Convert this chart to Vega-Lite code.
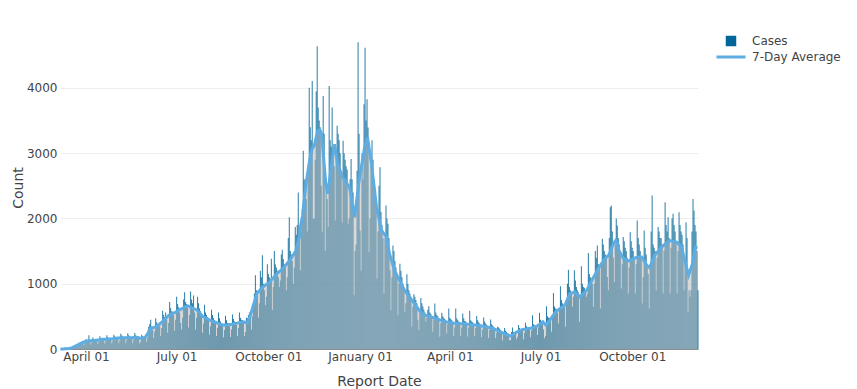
{
"$schema":"https://vega.github.io/schema/vega-lite/v6.json",
"width":638,"height":323,
"autosize":{"type":"none"},
"padding":{"left":60,"top":26,"right":159,"bottom":40},
"background":"#ffffff",
"config":{"font":"DejaVu Sans","view":{"stroke":null},
 "axis":{"labelFont":"DejaVu Sans","titleFont":"DejaVu Sans","labelFontSize":12,"titleFontSize":14,"labelColor":"#444444","titleColor":"#444444","titleFontWeight":"normal","ticks":false},
 "legend":{"labelFont":"DejaVu Sans"}},
"data":{"values":[
{"d":"2020-03-06","c":0,"a":0},{"d":"2020-03-07","c":0,"a":0},
{"d":"2020-03-08","c":0,"a":1},{"d":"2020-03-09","c":1,"a":1},{"d":"2020-03-10","c":2,"a":2},{"d":"2020-03-11","c":4,"a":3},{"d":"2020-03-12","c":5,"a":4},{"d":"2020-03-13","c":6,"a":5},{"d":"2020-03-14","c":8,"a":6},
{"d":"2020-03-15","c":5,"a":8},{"d":"2020-03-16","c":10,"a":12},{"d":"2020-03-17","c":20,"a":16},{"d":"2020-03-18","c":25,"a":20},{"d":"2020-03-19","c":30,"a":28},{"d":"2020-03-20","c":40,"a":36},{"d":"2020-03-21","c":45,"a":44},
{"d":"2020-03-22","c":30,"a":52},{"d":"2020-03-23","c":50,"a":60},{"d":"2020-03-24","c":95,"a":68},{"d":"2020-03-25","c":90,"a":76},{"d":"2020-03-26","c":95,"a":83},{"d":"2020-03-27","c":100,"a":90},{"d":"2020-03-28","c":90,"a":97},
{"d":"2020-03-29","c":60,"a":104},{"d":"2020-03-30","c":95,"a":110},{"d":"2020-03-31","c":150,"a":116},{"d":"2020-04-01","c":140,"a":122},{"d":"2020-04-02","c":130,"a":123},{"d":"2020-04-03","c":210,"a":124},{"d":"2020-04-04","c":120,"a":125},
{"d":"2020-04-05","c":70,"a":126},{"d":"2020-04-06","c":100,"a":127},{"d":"2020-04-07","c":175,"a":128},{"d":"2020-04-08","c":150,"a":130},{"d":"2020-04-09","c":140,"a":132},{"d":"2020-04-10","c":135,"a":134},{"d":"2020-04-11","c":125,"a":136},
{"d":"2020-04-12","c":75,"a":138},{"d":"2020-04-13","c":110,"a":140},{"d":"2020-04-14","c":195,"a":142},{"d":"2020-04-15","c":170,"a":144},{"d":"2020-04-16","c":160,"a":146},{"d":"2020-04-17","c":155,"a":148},{"d":"2020-04-18","c":140,"a":150},
{"d":"2020-04-19","c":80,"a":150},{"d":"2020-04-20","c":120,"a":151},{"d":"2020-04-21","c":210,"a":151},{"d":"2020-04-22","c":180,"a":152},{"d":"2020-04-23","c":165,"a":152},{"d":"2020-04-24","c":160,"a":153},{"d":"2020-04-25","c":145,"a":153},
{"d":"2020-04-26","c":85,"a":155},{"d":"2020-04-27","c":125,"a":157},{"d":"2020-04-28","c":220,"a":159},{"d":"2020-04-29","c":195,"a":161},{"d":"2020-04-30","c":180,"a":163},{"d":"2020-05-01","c":170,"a":165},{"d":"2020-05-02","c":160,"a":168},
{"d":"2020-05-03","c":90,"a":170},{"d":"2020-05-04","c":135,"a":170},{"d":"2020-05-05","c":235,"a":171},{"d":"2020-05-06","c":205,"a":171},{"d":"2020-05-07","c":190,"a":171},{"d":"2020-05-08","c":180,"a":172},{"d":"2020-05-09","c":165,"a":172},
{"d":"2020-05-10","c":90,"a":172},{"d":"2020-05-11","c":140,"a":173},{"d":"2020-05-12","c":240,"a":173},{"d":"2020-05-13","c":210,"a":173},{"d":"2020-05-14","c":190,"a":174},{"d":"2020-05-15","c":180,"a":174},{"d":"2020-05-16","c":165,"a":174},
{"d":"2020-05-17","c":90,"a":174},{"d":"2020-05-18","c":140,"a":175},{"d":"2020-05-19","c":245,"a":175},{"d":"2020-05-20","c":210,"a":175},{"d":"2020-05-21","c":195,"a":175},{"d":"2020-05-22","c":185,"a":175},{"d":"2020-05-23","c":165,"a":175},
{"d":"2020-05-24","c":85,"a":170},{"d":"2020-05-25","c":110,"a":165},{"d":"2020-05-26","c":220,"a":162},{"d":"2020-05-27","c":200,"a":165},{"d":"2020-05-28","c":185,"a":170},{"d":"2020-05-29","c":185,"a":175},{"d":"2020-05-30","c":170,"a":180},
{"d":"2020-05-31","c":110,"a":200},{"d":"2020-06-01","c":180,"a":225},{"d":"2020-06-02","c":340,"a":250},{"d":"2020-06-03","c":380,"a":290},{"d":"2020-06-04","c":450,"a":310},{"d":"2020-06-05","c":340,"a":320},{"d":"2020-06-06","c":300,"a":325},
{"d":"2020-06-07","c":170,"a":328},{"d":"2020-06-08","c":270,"a":332},{"d":"2020-06-09","c":470,"a":336},{"d":"2020-06-10","c":410,"a":341},{"d":"2020-06-11","c":380,"a":352},{"d":"2020-06-12","c":370,"a":365},{"d":"2020-06-13","c":350,"a":378},
{"d":"2020-06-14","c":200,"a":390},{"d":"2020-06-15","c":320,"a":403},{"d":"2020-06-16","c":585,"a":417},{"d":"2020-06-17","c":520,"a":432},{"d":"2020-06-18","c":490,"a":447},{"d":"2020-06-19","c":560,"a":462},{"d":"2020-06-20","c":450,"a":477},
{"d":"2020-06-21","c":250,"a":492},{"d":"2020-06-22","c":400,"a":505},{"d":"2020-06-23","c":720,"a":519},{"d":"2020-06-24","c":630,"a":526},{"d":"2020-06-25","c":580,"a":533},{"d":"2020-06-26","c":570,"a":541},{"d":"2020-06-27","c":520,"a":548},
{"d":"2020-06-28","c":280,"a":555},{"d":"2020-06-29","c":450,"a":562},{"d":"2020-06-30","c":800,"a":570},{"d":"2020-07-01","c":690,"a":579},{"d":"2020-07-02","c":640,"a":587},{"d":"2020-07-03","c":560,"a":596},{"d":"2020-07-04","c":400,"a":604},
{"d":"2020-07-05","c":300,"a":612},{"d":"2020-07-06","c":480,"a":621},{"d":"2020-07-07","c":760,"a":629},{"d":"2020-07-08","c":870,"a":637},{"d":"2020-07-09","c":720,"a":645},{"d":"2020-07-10","c":690,"a":652},{"d":"2020-07-11","c":630,"a":660},
{"d":"2020-07-12","c":330,"a":660},{"d":"2020-07-13","c":520,"a":653},{"d":"2020-07-14","c":880,"a":647},{"d":"2020-07-15","c":760,"a":640},{"d":"2020-07-16","c":700,"a":632},{"d":"2020-07-17","c":820,"a":625},{"d":"2020-07-18","c":560,"a":617},
{"d":"2020-07-19","c":300,"a":610},{"d":"2020-07-20","c":480,"a":602},{"d":"2020-07-21","c":800,"a":595},{"d":"2020-07-22","c":700,"a":578},{"d":"2020-07-23","c":620,"a":561},{"d":"2020-07-24","c":580,"a":544},{"d":"2020-07-25","c":520,"a":527},
{"d":"2020-07-26","c":250,"a":510},{"d":"2020-07-27","c":390,"a":494},{"d":"2020-07-28","c":680,"a":487},{"d":"2020-07-29","c":560,"a":480},{"d":"2020-07-30","c":520,"a":472},{"d":"2020-07-31","c":490,"a":465},{"d":"2020-08-01","c":440,"a":458},
{"d":"2020-08-02","c":220,"a":450},{"d":"2020-08-03","c":350,"a":443},{"d":"2020-08-04","c":600,"a":437},{"d":"2020-08-05","c":520,"a":431},{"d":"2020-08-06","c":470,"a":425},{"d":"2020-08-07","c":440,"a":418},{"d":"2020-08-08","c":400,"a":412},
{"d":"2020-08-09","c":200,"a":406},{"d":"2020-08-10","c":320,"a":400},{"d":"2020-08-11","c":560,"a":394},{"d":"2020-08-12","c":470,"a":389},{"d":"2020-08-13","c":420,"a":383},{"d":"2020-08-14","c":400,"a":377},{"d":"2020-08-15","c":360,"a":372},
{"d":"2020-08-16","c":180,"a":366},{"d":"2020-08-17","c":290,"a":366},{"d":"2020-08-18","c":510,"a":366},{"d":"2020-08-19","c":440,"a":366},{"d":"2020-08-20","c":400,"a":366},{"d":"2020-08-21","c":390,"a":369},{"d":"2020-08-22","c":350,"a":371},
{"d":"2020-08-23","c":185,"a":374},{"d":"2020-08-24","c":300,"a":377},{"d":"2020-08-25","c":530,"a":379},{"d":"2020-08-26","c":460,"a":382},{"d":"2020-08-27","c":420,"a":386},{"d":"2020-08-28","c":410,"a":389},{"d":"2020-08-29","c":370,"a":393},
{"d":"2020-08-30","c":200,"a":396},{"d":"2020-08-31","c":320,"a":400},{"d":"2020-09-01","c":560,"a":403},{"d":"2020-09-02","c":480,"a":407},{"d":"2020-09-03","c":450,"a":410},{"d":"2020-09-04","c":440,"a":414},{"d":"2020-09-05","c":400,"a":417},
{"d":"2020-09-06","c":200,"a":413},{"d":"2020-09-07","c":260,"a":409},{"d":"2020-09-08","c":480,"a":404},{"d":"2020-09-09","c":470,"a":400},{"d":"2020-09-10","c":520,"a":430},{"d":"2020-09-11","c":560,"a":462},{"d":"2020-09-12","c":500,"a":494},
{"d":"2020-09-13","c":300,"a":545},{"d":"2020-09-14","c":500,"a":596},{"d":"2020-09-15","c":700,"a":647},{"d":"2020-09-16","c":850,"a":698},{"d":"2020-09-17","c":1130,"a":748},{"d":"2020-09-18","c":900,"a":799},{"d":"2020-09-19","c":820,"a":850},
{"d":"2020-09-20","c":480,"a":867},{"d":"2020-09-21","c":700,"a":884},{"d":"2020-09-22","c":1200,"a":901},{"d":"2020-09-23","c":1100,"a":918},{"d":"2020-09-24","c":1435,"a":934},{"d":"2020-09-25","c":1000,"a":951},{"d":"2020-09-26","c":900,"a":962},
{"d":"2020-09-27","c":672,"a":973},{"d":"2020-09-28","c":800,"a":984},{"d":"2020-09-29","c":1300,"a":995},{"d":"2020-09-30","c":1150,"a":1006},{"d":"2020-10-01","c":1100,"a":1017},{"d":"2020-10-02","c":1050,"a":1028},{"d":"2020-10-03","c":1384,"a":1046},
{"d":"2020-10-04","c":600,"a":1064},{"d":"2020-10-05","c":950,"a":1082},{"d":"2020-10-06","c":1500,"a":1100},{"d":"2020-10-07","c":1300,"a":1118},{"d":"2020-10-08","c":1250,"a":1136},{"d":"2020-10-09","c":1200,"a":1155},{"d":"2020-10-10","c":1100,"a":1168},
{"d":"2020-10-11","c":950,"a":1181},{"d":"2020-10-12","c":1050,"a":1194},{"d":"2020-10-13","c":1450,"a":1206},{"d":"2020-10-14","c":1522,"a":1219},{"d":"2020-10-15","c":1380,"a":1232},{"d":"2020-10-16","c":1300,"a":1250},{"d":"2020-10-17","c":1250,"a":1268},
{"d":"2020-10-18","c":900,"a":1286},{"d":"2020-10-19","c":1100,"a":1304},{"d":"2020-10-20","c":1700,"a":1322},{"d":"2020-10-21","c":2020,"a":1340},{"d":"2020-10-22","c":1500,"a":1359},{"d":"2020-10-23","c":1450,"a":1382},{"d":"2020-10-24","c":1350,"a":1406},
{"d":"2020-10-25","c":1000,"a":1430},{"d":"2020-10-26","c":1250,"a":1453},{"d":"2020-10-27","c":1868,"a":1477},{"d":"2020-10-28","c":1750,"a":1500},{"d":"2020-10-29","c":1900,"a":1560},{"d":"2020-10-30","c":2400,"a":1620},{"d":"2020-10-31","c":1700,"a":1680},
{"d":"2020-11-01","c":1206,"a":1730},{"d":"2020-11-02","c":1800,"a":1900},{"d":"2020-11-03","c":2147,"a":1980},{"d":"2020-11-04","c":3038,"a":2050},{"d":"2020-11-05","c":2600,"a":2224},{"d":"2020-11-06","c":2500,"a":2350},{"d":"2020-11-07","c":2300,"a":2480},
{"d":"2020-11-08","c":1800,"a":2605},{"d":"2020-11-09","c":2700,"a":2700},{"d":"2020-11-10","c":4005,"a":2800},{"d":"2020-11-11","c":3400,"a":2900},{"d":"2020-11-12","c":3200,"a":2987},{"d":"2020-11-13","c":4107,"a":3040},{"d":"2020-11-14","c":1995,"a":3090},
{"d":"2020-11-15","c":2000,"a":3100},{"d":"2020-11-16","c":2900,"a":3140},{"d":"2020-11-17","c":3946,"a":3210},{"d":"2020-11-18","c":4640,"a":3280},{"d":"2020-11-19","c":3700,"a":3344},{"d":"2020-11-20","c":3500,"a":3352},{"d":"2020-11-21","c":3400,"a":3360},
{"d":"2020-11-22","c":2500,"a":3330},{"d":"2020-11-23","c":1791,"a":3293},{"d":"2020-11-24","c":3878,"a":3100},{"d":"2020-11-25","c":3300,"a":2920},{"d":"2020-11-26","c":1500,"a":2733},{"d":"2020-11-27","c":2600,"a":2550},{"d":"2020-11-28","c":2300,"a":2460},
{"d":"2020-11-29","c":1868,"a":2377},{"d":"2020-11-30","c":4030,"a":2490},{"d":"2020-12-01","c":3200,"a":2600},{"d":"2020-12-02","c":3100,"a":2720},{"d":"2020-12-03","c":3700,"a":2835},{"d":"2020-12-04","c":3000,"a":2940},{"d":"2020-12-05","c":2800,"a":3040},
{"d":"2020-12-06","c":1969,"a":3140},{"d":"2020-12-07","c":3000,"a":3040},{"d":"2020-12-08","c":3420,"a":2940},{"d":"2020-12-09","c":3300,"a":2835},{"d":"2020-12-10","c":3200,"a":2795},{"d":"2020-12-11","c":3000,"a":2755},{"d":"2020-12-12","c":2700,"a":2715},
{"d":"2020-12-13","c":1944,"a":2675},{"d":"2020-12-14","c":3191,"a":2631},{"d":"2020-12-15","c":3000,"a":2610},{"d":"2020-12-16","c":2900,"a":2590},{"d":"2020-12-17","c":2800,"a":2565},{"d":"2020-12-18","c":2750,"a":2545},{"d":"2020-12-19","c":1919,"a":2520},
{"d":"2020-12-20","c":2000,"a":2500},{"d":"2020-12-21","c":2600,"a":2478},{"d":"2020-12-22","c":2911,"a":2386},{"d":"2020-12-23","c":2600,"a":2295},{"d":"2020-12-24","c":2400,"a":2203},{"d":"2020-12-25","c":824,"a":2112},{"d":"2020-12-26","c":1500,"a":2020},
{"d":"2020-12-27","c":1600,"a":2142},{"d":"2020-12-28","c":2733,"a":2264},{"d":"2020-12-29","c":4700,"a":2387},{"d":"2020-12-30","c":3300,"a":2509},{"d":"2020-12-31","c":1817,"a":2631},{"d":"2021-01-01","c":1200,"a":2720},{"d":"2021-01-02","c":3000,"a":2810},
{"d":"2021-01-03","c":2600,"a":2900},{"d":"2021-01-04","c":3750,"a":2990},{"d":"2021-01-05","c":4616,"a":3089},{"d":"2021-01-06","c":3500,"a":3140},{"d":"2021-01-07","c":3827,"a":3190},{"d":"2021-01-08","c":3394,"a":3242},{"d":"2021-01-09","c":1486,"a":3140},
{"d":"2021-01-10","c":2000,"a":3040},{"d":"2021-01-11","c":2800,"a":2940},{"d":"2021-01-12","c":3200,"a":2835},{"d":"2021-01-13","c":2900,"a":2700},{"d":"2021-01-14","c":2600,"a":2570},{"d":"2021-01-15","c":2400,"a":2440},{"d":"2021-01-16","c":2200,"a":2300},
{"d":"2021-01-17","c":1079,"a":2173},{"d":"2021-01-18","c":1800,"a":2100},{"d":"2021-01-19","c":2500,"a":2030},{"d":"2021-01-20","c":2784,"a":1960},{"d":"2021-01-21","c":2100,"a":1890},{"d":"2021-01-22","c":1900,"a":1817},{"d":"2021-01-23","c":1700,"a":1797},
{"d":"2021-01-24","c":850,"a":1777},{"d":"2021-01-25","c":1700,"a":1756},{"d":"2021-01-26","c":2200,"a":1736},{"d":"2021-01-27","c":2000,"a":1715},{"d":"2021-01-28","c":1919,"a":1630},{"d":"2021-01-29","c":1700,"a":1545},{"d":"2021-01-30","c":1206,"a":1460},
{"d":"2021-01-31","c":595,"a":1410},{"d":"2021-02-01","c":1100,"a":1360},{"d":"2021-02-02","c":1588,"a":1310},{"d":"2021-02-03","c":1500,"a":1260},{"d":"2021-02-04","c":1350,"a":1206},{"d":"2021-02-05","c":1250,"a":1175},{"d":"2021-02-06","c":1100,"a":1145},
{"d":"2021-02-07","c":519,"a":1114},{"d":"2021-02-08","c":1000,"a":1084},{"d":"2021-02-09","c":1308,"a":1053},{"d":"2021-02-10","c":1200,"a":1023},{"d":"2021-02-11","c":1100,"a":992},{"d":"2021-02-12","c":1000,"a":961},{"d":"2021-02-13","c":900,"a":931},
{"d":"2021-02-14","c":570,"a":900},{"d":"2021-02-15","c":700,"a":880},{"d":"2021-02-16","c":1145,"a":860},{"d":"2021-02-17","c":1000,"a":840},{"d":"2021-02-18","c":900,"a":819},{"d":"2021-02-19","c":850,"a":799},{"d":"2021-02-20","c":800,"a":779},
{"d":"2021-02-21","c":341,"a":758},{"d":"2021-02-22","c":650,"a":738},{"d":"2021-02-23","c":840,"a":717},{"d":"2021-02-24","c":800,"a":697},{"d":"2021-02-25","c":750,"a":676},{"d":"2021-02-26","c":700,"a":655},{"d":"2021-02-27","c":450,"a":633},
{"d":"2021-02-28","c":290,"a":612},{"d":"2021-03-01","c":550,"a":591},{"d":"2021-03-02","c":780,"a":570},{"d":"2021-03-03","c":700,"a":560},{"d":"2021-03-04","c":650,"a":550},{"d":"2021-03-05","c":600,"a":540},{"d":"2021-03-06","c":560,"a":530},
{"d":"2021-03-07","c":417,"a":519},{"d":"2021-03-08","c":480,"a":514},{"d":"2021-03-09","c":600,"a":509},{"d":"2021-03-10","c":656,"a":504},{"d":"2021-03-11","c":560,"a":499},{"d":"2021-03-12","c":540,"a":494},{"d":"2021-03-13","c":500,"a":489},
{"d":"2021-03-14","c":265,"a":484},{"d":"2021-03-15","c":450,"a":479},{"d":"2021-03-16","c":697,"a":474},{"d":"2021-03-17","c":560,"a":468},{"d":"2021-03-18","c":520,"a":463},{"d":"2021-03-19","c":500,"a":458},{"d":"2021-03-20","c":470,"a":453},
{"d":"2021-03-21","c":188,"a":448},{"d":"2021-03-22","c":400,"a":443},{"d":"2021-03-23","c":555,"a":438},{"d":"2021-03-24","c":500,"a":433},{"d":"2021-03-25","c":480,"a":427},{"d":"2021-03-26","c":460,"a":422},{"d":"2021-03-27","c":440,"a":417},
{"d":"2021-03-28","c":239,"a":415},{"d":"2021-03-29","c":380,"a":412},{"d":"2021-03-30","c":621,"a":410},{"d":"2021-03-31","c":480,"a":407},{"d":"2021-04-01","c":460,"a":405},{"d":"2021-04-02","c":440,"a":402},{"d":"2021-04-03","c":400,"a":400},
{"d":"2021-04-04","c":200,"a":397},{"d":"2021-04-05","c":330,"a":395},{"d":"2021-04-06","c":621,"a":393},{"d":"2021-04-07","c":470,"a":392},{"d":"2021-04-08","c":440,"a":391},{"d":"2021-04-09","c":420,"a":390},{"d":"2021-04-10","c":400,"a":389},
{"d":"2021-04-11","c":200,"a":388},{"d":"2021-04-12","c":330,"a":387},{"d":"2021-04-13","c":545,"a":386},{"d":"2021-04-14","c":470,"a":385},{"d":"2021-04-15","c":430,"a":384},{"d":"2021-04-16","c":420,"a":383},{"d":"2021-04-17","c":390,"a":382},
{"d":"2021-04-18","c":190,"a":381},{"d":"2021-04-19","c":330,"a":379},{"d":"2021-04-20","c":585,"a":378},{"d":"2021-04-21","c":440,"a":376},{"d":"2021-04-22","c":420,"a":374},{"d":"2021-04-23","c":410,"a":373},{"d":"2021-04-24","c":370,"a":371},
{"d":"2021-04-25","c":200,"a":369},{"d":"2021-04-26","c":320,"a":368},{"d":"2021-04-27","c":504,"a":366},{"d":"2021-04-28","c":440,"a":363},{"d":"2021-04-29","c":410,"a":361},{"d":"2021-04-30","c":390,"a":358},{"d":"2021-05-01","c":370,"a":356},
{"d":"2021-05-02","c":180,"a":353},{"d":"2021-05-03","c":300,"a":351},{"d":"2021-05-04","c":483,"a":348},{"d":"2021-05-05","c":420,"a":346},{"d":"2021-05-06","c":390,"a":343},{"d":"2021-05-07","c":370,"a":341},{"d":"2021-05-08","c":350,"a":337},
{"d":"2021-05-09","c":170,"a":333},{"d":"2021-05-10","c":290,"a":329},{"d":"2021-05-11","c":453,"a":325},{"d":"2021-05-12","c":380,"a":321},{"d":"2021-05-13","c":360,"a":317},{"d":"2021-05-14","c":340,"a":313},{"d":"2021-05-15","c":320,"a":309},
{"d":"2021-05-16","c":163,"a":300},{"d":"2021-05-17","c":250,"a":293},{"d":"2021-05-18","c":341,"a":286},{"d":"2021-05-19","c":330,"a":279},{"d":"2021-05-20","c":310,"a":272},{"d":"2021-05-21","c":290,"a":265},{"d":"2021-05-22","c":270,"a":258},
{"d":"2021-05-23","c":130,"a":251},{"d":"2021-05-24","c":230,"a":245},{"d":"2021-05-25","c":320,"a":239},{"d":"2021-05-26","c":280,"a":233},{"d":"2021-05-27","c":260,"a":227},{"d":"2021-05-28","c":240,"a":221},{"d":"2021-05-29","c":200,"a":215},
{"d":"2021-05-30","c":130,"a":208},{"d":"2021-05-31","c":137,"a":203},{"d":"2021-06-01","c":260,"a":198},{"d":"2021-06-02","c":331,"a":210},{"d":"2021-06-03","c":260,"a":220},{"d":"2021-06-04","c":250,"a":232},{"d":"2021-06-05","c":240,"a":243},
{"d":"2021-06-06","c":150,"a":254},{"d":"2021-06-07","c":188,"a":265},{"d":"2021-06-08","c":366,"a":271},{"d":"2021-06-09","c":320,"a":277},{"d":"2021-06-10","c":300,"a":283},{"d":"2021-06-11","c":290,"a":289},{"d":"2021-06-12","c":280,"a":295},
{"d":"2021-06-13","c":150,"a":300},{"d":"2021-06-14","c":250,"a":302},{"d":"2021-06-15","c":402,"a":304},{"d":"2021-06-16","c":350,"a":306},{"d":"2021-06-17","c":330,"a":309},{"d":"2021-06-18","c":320,"a":311},{"d":"2021-06-19","c":300,"a":313},
{"d":"2021-06-20","c":180,"a":315},{"d":"2021-06-21","c":280,"a":320},{"d":"2021-06-22","c":519,"a":325},{"d":"2021-06-23","c":380,"a":330},{"d":"2021-06-24","c":360,"a":336},{"d":"2021-06-25","c":350,"a":341},{"d":"2021-06-26","c":330,"a":346},
{"d":"2021-06-27","c":214,"a":351},{"d":"2021-06-28","c":330,"a":362},{"d":"2021-06-29","c":555,"a":373},{"d":"2021-06-30","c":450,"a":384},{"d":"2021-07-01","c":430,"a":395},{"d":"2021-07-02","c":420,"a":406},{"d":"2021-07-03","c":300,"a":417},
{"d":"2021-07-04","c":163,"a":400},{"d":"2021-07-05","c":200,"a":383},{"d":"2021-07-06","c":656,"a":366},{"d":"2021-07-07","c":500,"a":386},{"d":"2021-07-08","c":480,"a":406},{"d":"2021-07-09","c":470,"a":427},{"d":"2021-07-10","c":430,"a":447},
{"d":"2021-07-11","c":265,"a":468},{"d":"2021-07-12","c":500,"a":489},{"d":"2021-07-13","c":860,"a":510},{"d":"2021-07-14","c":650,"a":531},{"d":"2021-07-15","c":620,"a":553},{"d":"2021-07-16","c":600,"a":574},{"d":"2021-07-17","c":560,"a":595},
{"d":"2021-07-18","c":392,"a":595},{"d":"2021-07-19","c":600,"a":606},{"d":"2021-07-20","c":962,"a":617},{"d":"2021-07-21","c":750,"a":628},{"d":"2021-07-22","c":700,"a":639},{"d":"2021-07-23","c":680,"a":650},{"d":"2021-07-24","c":640,"a":661},
{"d":"2021-07-25","c":341,"a":672},{"d":"2021-07-26","c":700,"a":707},{"d":"2021-07-27","c":1000,"a":743},{"d":"2021-07-28","c":1216,"a":778},{"d":"2021-07-29","c":950,"a":814},{"d":"2021-07-30","c":900,"a":850},{"d":"2021-07-31","c":850,"a":855},
{"d":"2021-08-01","c":646,"a":860},{"d":"2021-08-02","c":800,"a":865},{"d":"2021-08-03","c":1206,"a":870},{"d":"2021-08-04","c":1050,"a":875},{"d":"2021-08-05","c":950,"a":860},{"d":"2021-08-06","c":900,"a":845},{"d":"2021-08-07","c":870,"a":830},
{"d":"2021-08-08","c":417,"a":815},{"d":"2021-08-09","c":800,"a":799},{"d":"2021-08-10","c":1267,"a":814},{"d":"2021-08-11","c":1000,"a":828},{"d":"2021-08-12","c":950,"a":843},{"d":"2021-08-13","c":940,"a":857},{"d":"2021-08-14","c":900,"a":872},
{"d":"2021-08-15","c":799,"a":886},{"d":"2021-08-16","c":850,"a":901},{"d":"2021-08-17","c":1471,"a":931},{"d":"2021-08-18","c":1150,"a":961},{"d":"2021-08-19","c":1100,"a":990},{"d":"2021-08-20","c":1050,"a":1020},{"d":"2021-08-21","c":1000,"a":1050},
{"d":"2021-08-22","c":646,"a":1079},{"d":"2021-08-23","c":1000,"a":1106},{"d":"2021-08-24","c":1500,"a":1133},{"d":"2021-08-25","c":1400,"a":1160},{"d":"2021-08-26","c":1588,"a":1188},{"d":"2021-08-27","c":1300,"a":1215},{"d":"2021-08-28","c":1250,"a":1243},
{"d":"2021-08-29","c":621,"a":1270},{"d":"2021-08-30","c":1300,"a":1292},{"d":"2021-08-31","c":1690,"a":1314},{"d":"2021-09-01","c":1600,"a":1336},{"d":"2021-09-02","c":1500,"a":1358},{"d":"2021-09-03","c":1450,"a":1380},{"d":"2021-09-04","c":1400,"a":1395},
{"d":"2021-09-05","c":1104,"a":1410},{"d":"2021-09-06","c":900,"a":1425},{"d":"2021-09-07","c":1700,"a":1440},{"d":"2021-09-08","c":2173,"a":1475},{"d":"2021-09-09","c":2198,"a":1511},{"d":"2021-09-10","c":1800,"a":1550},{"d":"2021-09-11","c":1400,"a":1590},
{"d":"2021-09-12","c":1028,"a":1620},{"d":"2021-09-13","c":1600,"a":1645},{"d":"2021-09-14","c":2000,"a":1664},{"d":"2021-09-15","c":1893,"a":1630},{"d":"2021-09-16","c":1700,"a":1570},{"d":"2021-09-17","c":1600,"a":1520},{"d":"2021-09-18","c":1500,"a":1486},
{"d":"2021-09-19","c":926,"a":1460},{"d":"2021-09-20","c":1300,"a":1430},{"d":"2021-09-21","c":1715,"a":1405},{"d":"2021-09-22","c":1650,"a":1384},{"d":"2021-09-23","c":1550,"a":1377},{"d":"2021-09-24","c":1500,"a":1370},{"d":"2021-09-25","c":1400,"a":1363},
{"d":"2021-09-26","c":850,"a":1356},{"d":"2021-09-27","c":1250,"a":1349},{"d":"2021-09-28","c":1791,"a":1356},{"d":"2021-09-29","c":1650,"a":1363},{"d":"2021-09-30","c":1550,"a":1371},{"d":"2021-10-01","c":1500,"a":1378},{"d":"2021-10-02","c":1400,"a":1385},
{"d":"2021-10-03","c":850,"a":1392},{"d":"2021-10-04","c":1300,"a":1400},{"d":"2021-10-05","c":1969,"a":1402},{"d":"2021-10-06","c":1700,"a":1404},{"d":"2021-10-07","c":1600,"a":1406},{"d":"2021-10-08","c":1500,"a":1408},{"d":"2021-10-09","c":1400,"a":1410},
{"d":"2021-10-10","c":697,"a":1410},{"d":"2021-10-11","c":1100,"a":1385},{"d":"2021-10-12","c":1817,"a":1359},{"d":"2021-10-13","c":1550,"a":1333},{"d":"2021-10-14","c":1450,"a":1308},{"d":"2021-10-15","c":1300,"a":1282},{"d":"2021-10-16","c":1150,"a":1270},
{"d":"2021-10-17","c":621,"a":1258},{"d":"2021-10-18","c":1300,"a":1247},{"d":"2021-10-19","c":1800,"a":1285},{"d":"2021-10-20","c":2351,"a":1322},{"d":"2021-10-21","c":1600,"a":1360},{"d":"2021-10-22","c":1550,"a":1397},{"d":"2021-10-23","c":1500,"a":1435},
{"d":"2021-10-24","c":900,"a":1453},{"d":"2021-10-25","c":1400,"a":1471},{"d":"2021-10-26","c":1868,"a":1489},{"d":"2021-10-27","c":1800,"a":1508},{"d":"2021-10-28","c":1700,"a":1526},{"d":"2021-10-29","c":1700,"a":1544},{"d":"2021-10-30","c":1600,"a":1562},
{"d":"2021-10-31","c":850,"a":1575},{"d":"2021-11-01","c":1500,"a":1588},{"d":"2021-11-02","c":2249,"a":1601},{"d":"2021-11-03","c":1900,"a":1613},{"d":"2021-11-04","c":1800,"a":1626},{"d":"2021-11-05","c":2020,"a":1639},{"d":"2021-11-06","c":1700,"a":1651},
{"d":"2021-11-07","c":850,"a":1664},{"d":"2021-11-08","c":1550,"a":1660},{"d":"2021-11-09","c":2000,"a":1657},{"d":"2021-11-10","c":2071,"a":1653},{"d":"2021-11-11","c":1900,"a":1650},{"d":"2021-11-12","c":1800,"a":1646},{"d":"2021-11-13","c":1650,"a":1643},
{"d":"2021-11-14","c":850,"a":1639},{"d":"2021-11-15","c":1500,"a":1624},{"d":"2021-11-16","c":2097,"a":1608},{"d":"2021-11-17","c":1900,"a":1593},{"d":"2021-11-18","c":1800,"a":1577},{"d":"2021-11-19","c":1750,"a":1562},{"d":"2021-11-20","c":1600,"a":1500},
{"d":"2021-11-21","c":900,"a":1430},{"d":"2021-11-22","c":1400,"a":1370},{"d":"2021-11-23","c":1944,"a":1308},{"d":"2021-11-24","c":1700,"a":1250},{"d":"2021-11-25","c":570,"a":1190},{"d":"2021-11-26","c":900,"a":1130},{"d":"2021-11-27","c":800,"a":1175},
{"d":"2021-11-28","c":900,"a":1220},{"d":"2021-11-29","c":1800,"a":1264},{"d":"2021-11-30","c":2300,"a":1308},{"d":"2021-12-01","c":2122,"a":1400},{"d":"2021-12-02","c":1900,"a":1480},{"d":"2021-12-03","c":1800,"a":1562},{"d":"2021-12-04","c":1500,"a":1560},
{"d":"2021-12-05","c":900,"a":1560}
]},
"layer":[
 {"mark":{"type":"bar","opacity":0.85,"binSpacing":0},
  "encoding":{
   "x":{"field":"d","type":"temporal","timeUnit":"utcyearmonthdate","title":"Report Date",
        "scale":{"type":"utc","domain":[{"year":2020,"month":3,"date":6,"utc":true},{"year":2021,"month":12,"date":6,"utc":true}]},
        "axis":{"values":[{"year":2020,"month":4,"date":1,"utc":true},{"year":2020,"month":7,"date":1,"utc":true},{"year":2020,"month":10,"date":1,"utc":true},{"year":2021,"month":1,"date":1,"utc":true},{"year":2021,"month":4,"date":1,"utc":true},{"year":2021,"month":7,"date":1,"utc":true},{"year":2021,"month":10,"date":1,"utc":true}],
                "labelExpr":"utcFormat(datum.value, '%B %d')","grid":false,"domainColor":"#8c8c8c","labelPadding":2,"titlePadding":12,"labelFlush":false,"labelOverlap":false}},
   "y":{"field":"c","type":"quantitative","title":"Count","scale":{"domain":[0,4950],"nice":false},
        "axis":{"values":[0,1000,2000,3000,4000],"format":"d","domain":false,"gridColor":"#eeeeee","labelPadding":3,"titlePadding":1}},
   "color":{"datum":"Cases","type":"nominal",
        "scale":{"domain":["Cases","7-Day Average"],"range":["#006699","#5DADE2"]},
        "legend":{"title":null,"orient":"right","offset":18,"padding":9,"labelFontSize":12,"labelColor":"#444444","symbolSize":110,"symbolOpacity":1,"rowPadding":4,"labelOffset":15,
          "encode":{"symbols":{"update":{
            "shape":{"signal":"datum.value === 'Cases' ? 'square' : 'stroke'"},
            "size":{"signal":"datum.value === 'Cases' ? 110 : 841"},
            "fill":{"signal":"datum.value === 'Cases' ? '#006699' : 'transparent'"},
            "stroke":{"signal":"datum.value === 'Cases' ? 'transparent' : '#5DADE2'"},
            "strokeWidth":{"signal":"datum.value === 'Cases' ? 0 : 3"},
            "opacity":{"value":1}}}}}}}},
 {"mark":{"type":"area","color":"#b4b4b4","opacity":0.5},
  "encoding":{"x":{"field":"d","type":"temporal","timeUnit":"utcyearmonthdate","bandPosition":0.5,"title":"Report Date"},
              "y":{"field":"a","type":"quantitative","title":"Count"}}},
 {"mark":{"type":"line","strokeWidth":3},
  "encoding":{"x":{"field":"d","type":"temporal","timeUnit":"utcyearmonthdate","bandPosition":0.5,"title":"Report Date"},
              "y":{"field":"a","type":"quantitative","title":"Count"},
              "color":{"datum":"7-Day Average","type":"nominal"}}}
]
}
